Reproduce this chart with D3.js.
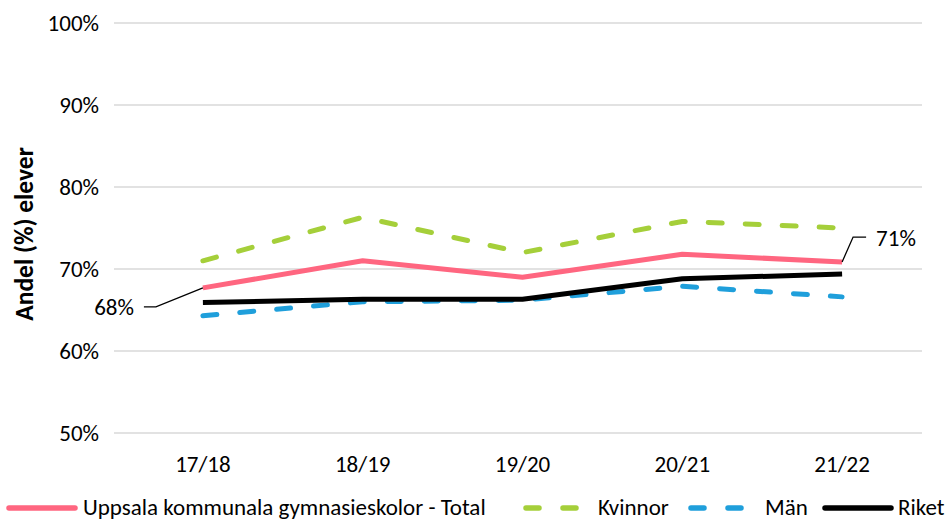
<!DOCTYPE html>
<html><head><meta charset="utf-8">
<script src="https://cdn.jsdelivr.net/npm/d3@7"></script>
<style>body{margin:0;background:#fff}svg{display:block}text{font-family:Carlito,Calibri,Lato,"Open Sans",sans-serif;fill:#000}</style>
</head><body><svg id="c" width="952" height="520"></svg>
<script>
const categories = ["17/18","18/19","19/20","20/21","21/22"];
const total   = [67.7, 71.0, 69.0, 71.8, 70.85];
const kvinnor = [71.0, 76.3, 72.0, 75.8, 75.0];
const man     = [64.3, 66.0, 66.2, 67.9, 66.6];
const riket   = [65.9, 66.3, 66.3, 68.8, 69.4];
const yTicks = [50,60,70,80,90,100];
const seriesNames = ["Uppsala kommunala gymnasieskolor - Total","Kvinnor","Män","Riket"];
const yTitle = "Andel (%) elever";

const FS = 23;
const FONT = "Carlito,Calibri,Lato,sans-serif";
const svg = d3.select("#c");
const mLeft = 123, mRight = 922, mTop = 23, mBottom = 433;
const x = d3.scaleBand().domain(categories).range([mLeft, mRight]);
const y = d3.scaleLinear().domain([50,100]).range([mBottom, mTop]);
const cx = d => x(d) + x.bandwidth()/2;

// grid
svg.append("g").selectAll("line").data(yTicks).join("line")
  .attr("x1", mLeft - 9).attr("x2", mRight).attr("y1", d=>y(d)).attr("y2", d=>y(d))
  .attr("stroke", "#d9d9d9").attr("stroke-width", 1.3);

// y axis labels
const yAxis = d3.axisLeft(y).tickValues(yTicks).tickFormat(d=>d+"%").tickSize(0).tickPadding(0);
const ga = svg.append("g").attr("transform", `translate(${mLeft-24},0)`).call(yAxis);
ga.select(".domain").remove();
ga.selectAll("text").attr("font-size", FS).attr("font-family",FONT).attr("fill","#000");

// x axis labels
const xAxis = d3.axisBottom(x).tickSize(0).tickPadding(0);
const gx = svg.append("g").attr("transform", `translate(0,${mBottom+23})`).call(xAxis);
gx.select(".domain").remove();
gx.selectAll("text").attr("font-size", FS).attr("font-family",FONT).attr("fill","#000");

// y title
svg.append("text").attr("transform", `translate(33,234) rotate(-90)`)
  .attr("text-anchor","middle").attr("font-size", 25.5).attr("font-weight","bold").text(yTitle);

const line = d3.line().x((d,i)=>cx(categories[i])).y(d=>y(d));
const series = [
  {v: total, color:"#FF6680", dash:null, w:5},
  {v: kvinnor, color:"#A5CF3A", dash:"14,23", w:5},
  {v: man, color:"#1F9FDB", dash:"14,23", w:5},
  {v: riket, color:"#000000", dash:null, w:5}
];
const order = [2,3,1,0];
order.forEach(i=>{
  const s = series[i];
  svg.append("path").datum(s.v).attr("d", line).attr("fill","none")
    .attr("stroke", s.color).attr("stroke-width", s.w)
    .attr("stroke-linecap", s.dash ? "round" : "butt")
    .attr("stroke-linejoin","round")
    .attr("stroke-dasharray", s.dash);
});

// data labels
const p0 = [cx(categories[0]), y(total[0])];
svg.append("path").attr("d", `M${p0[0]},${p0[1]} L${p0[0]-47},${p0[1]+19} L${p0[0]-59},${p0[1]+19}`)
  .attr("fill","none").attr("stroke","#000").attr("stroke-width",1.3);
svg.append("text").attr("x", p0[0]-69).attr("y", p0[1]+27).attr("text-anchor","end").attr("font-size",FS)
  .text(Math.round(total[0])+"%");
const p4 = [cx(categories[4]), y(total[4])];
svg.append("path").attr("d", `M${p4[0]},${p4[1]} L${p4[0]+11},${p4[1]-25} L${p4[0]+24},${p4[1]-25}`)
  .attr("fill","none").attr("stroke","#000").attr("stroke-width",1.3);
svg.append("text").attr("x", p4[0]+34).attr("y", p4[1]-16).attr("font-size",FS)
  .text(Math.round(total[4])+"%");

// legend
const ly = 508;
const legendItems = [
  {x1:9, x2:75, tx:83, i:0},
  {x1:526, x2:576, tx:598, i:1},
  {x1:691, x2:741, tx:765, i:2},
  {x1:825, x2:891, tx:898, i:3}
];
legendItems.forEach(l=>{
  const s = series[l.i];
  svg.append("line").attr("x1",l.x1).attr("x2",l.x2).attr("y1",ly).attr("y2",ly)
    .attr("stroke", s.color).attr("stroke-width", s.w+0.5)
    .attr("stroke-linecap", "round")
    .attr("stroke-dasharray", s.dash ? "13,24" : null);
  svg.append("text").attr("x", l.tx).attr("y", ly+7).attr("font-size",FS).text(seriesNames[l.i]);
});
</script></body></html>
